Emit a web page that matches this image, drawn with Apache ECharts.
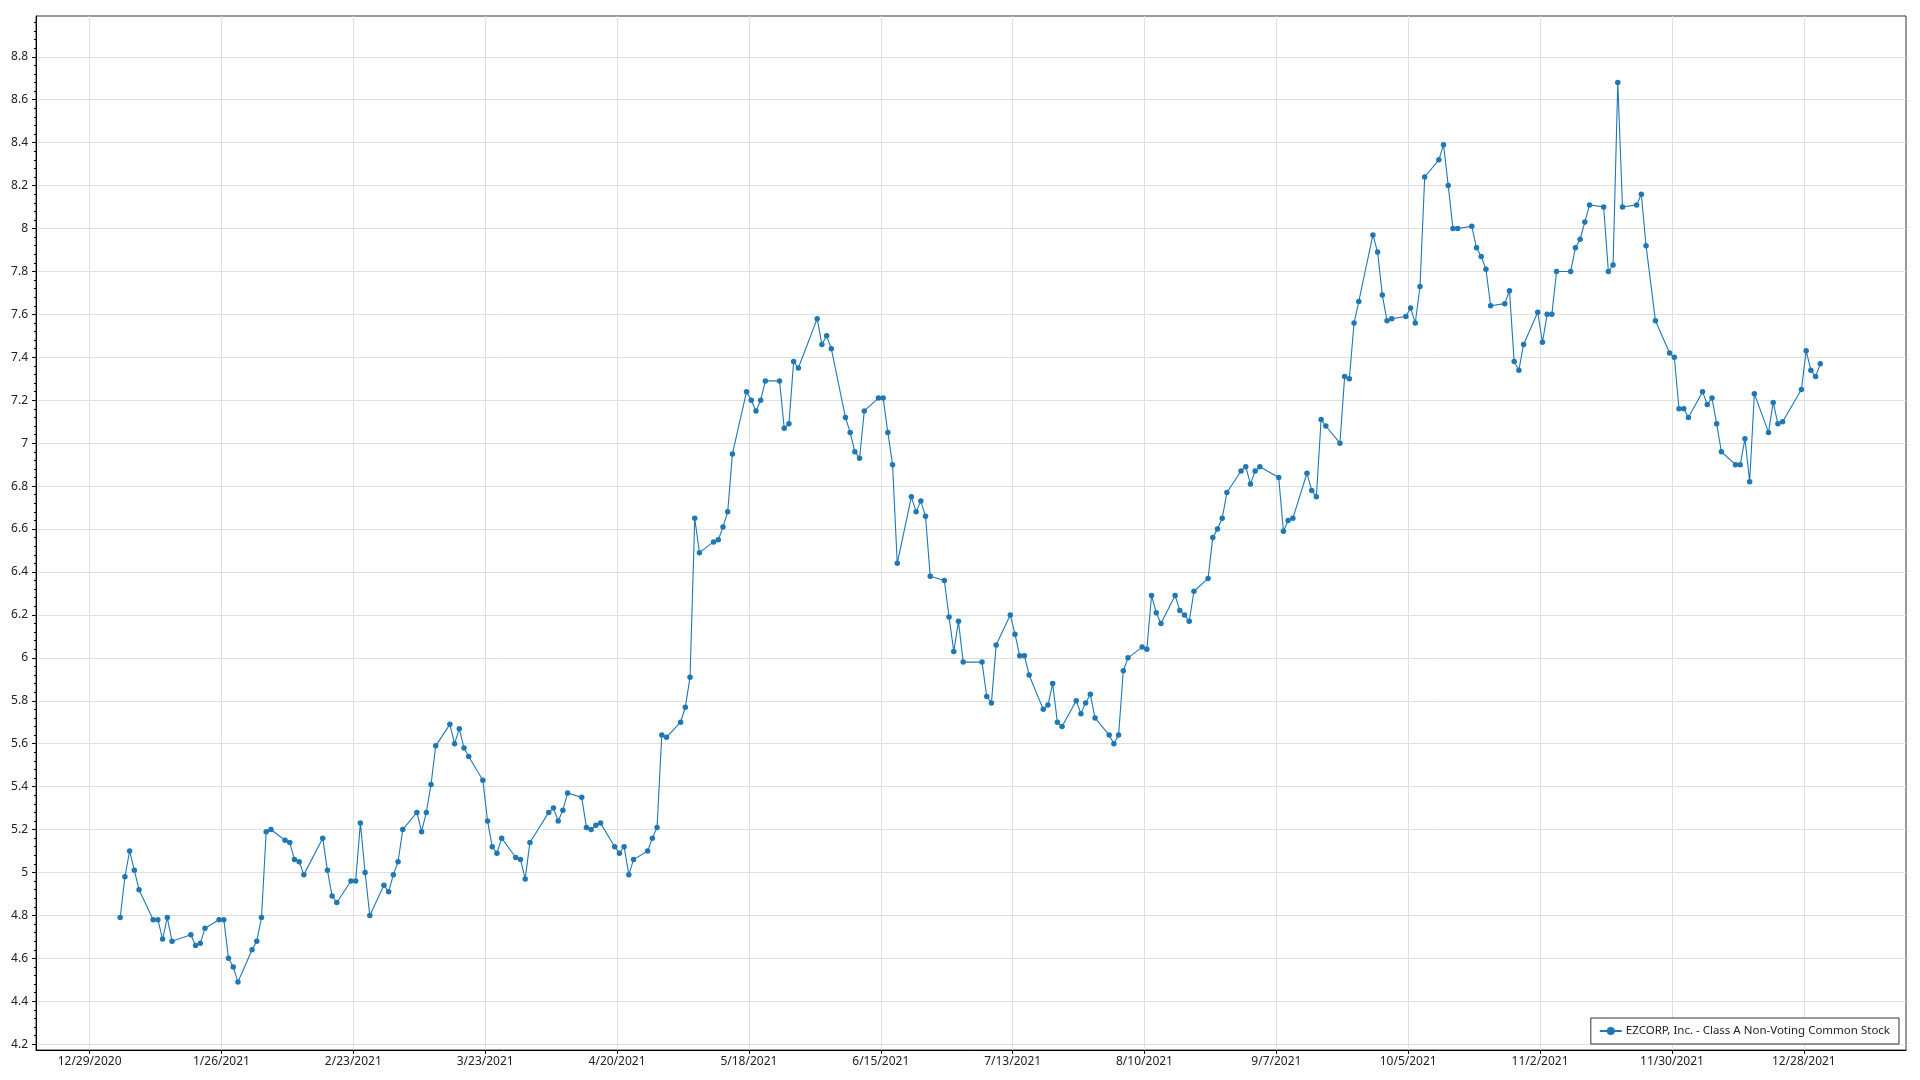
<!DOCTYPE html>
<html><head><meta charset="utf-8">
<script src="https://cdn.jsdelivr.net/npm/echarts@6/dist/echarts.min.js"></script>
<style>html,body{margin:0;padding:0;background:#fff}#c{width:1920px;height:1080px}</style>
</head><body><div id="c"></div>
<script>
const seriesName = 'EZCORP, Inc. - Class A Non-Voting Common Stock';
const dates = [
'2021-01-04','2021-01-05','2021-01-06','2021-01-07','2021-01-08','2021-01-11','2021-01-12','2021-01-13','2021-01-14','2021-01-15',
'2021-01-19','2021-01-20','2021-01-21','2021-01-22','2021-01-25','2021-01-26','2021-01-27','2021-01-28','2021-01-29',
'2021-02-01','2021-02-02','2021-02-03','2021-02-04','2021-02-05','2021-02-08','2021-02-09','2021-02-10','2021-02-11','2021-02-12',
'2021-02-16','2021-02-17','2021-02-18','2021-02-19','2021-02-22','2021-02-23','2021-02-24','2021-02-25','2021-02-26',
'2021-03-01','2021-03-02','2021-03-03','2021-03-04','2021-03-05','2021-03-08','2021-03-09','2021-03-10','2021-03-11','2021-03-12',
'2021-03-15','2021-03-16','2021-03-17','2021-03-18','2021-03-19','2021-03-22','2021-03-23','2021-03-24','2021-03-25','2021-03-26',
'2021-03-29','2021-03-30','2021-03-31','2021-04-01','2021-04-05','2021-04-06','2021-04-07','2021-04-08','2021-04-09',
'2021-04-12','2021-04-13','2021-04-14','2021-04-15','2021-04-16','2021-04-19','2021-04-20','2021-04-21','2021-04-22','2021-04-23',
'2021-04-26','2021-04-27','2021-04-28','2021-04-29','2021-04-30','2021-05-03','2021-05-04','2021-05-05','2021-05-06','2021-05-07',
'2021-05-10','2021-05-11','2021-05-12','2021-05-13','2021-05-14','2021-05-17','2021-05-18','2021-05-19','2021-05-20','2021-05-21',
'2021-05-24','2021-05-25','2021-05-26','2021-05-27','2021-05-28','2021-06-01','2021-06-02','2021-06-03','2021-06-04',
'2021-06-07','2021-06-08','2021-06-09','2021-06-10','2021-06-11','2021-06-14','2021-06-15','2021-06-16','2021-06-17','2021-06-18',
'2021-06-21','2021-06-22','2021-06-23','2021-06-24','2021-06-25','2021-06-28','2021-06-29','2021-06-30','2021-07-01','2021-07-02',
'2021-07-06','2021-07-07','2021-07-08','2021-07-09','2021-07-12','2021-07-13','2021-07-14','2021-07-15','2021-07-16',
'2021-07-19','2021-07-20','2021-07-21','2021-07-22','2021-07-23','2021-07-26','2021-07-27','2021-07-28','2021-07-29','2021-07-30',
'2021-08-02','2021-08-03','2021-08-04','2021-08-05','2021-08-06','2021-08-09','2021-08-10','2021-08-11','2021-08-12','2021-08-13',
'2021-08-16','2021-08-17','2021-08-18','2021-08-19','2021-08-20','2021-08-23','2021-08-24','2021-08-25','2021-08-26','2021-08-27',
'2021-08-30','2021-08-31','2021-09-01','2021-09-02','2021-09-03','2021-09-07','2021-09-08','2021-09-09','2021-09-10',
'2021-09-13','2021-09-14','2021-09-15','2021-09-16','2021-09-17','2021-09-20','2021-09-21','2021-09-22','2021-09-23','2021-09-24',
'2021-09-27','2021-09-28','2021-09-29','2021-09-30','2021-10-01','2021-10-04','2021-10-05','2021-10-06','2021-10-07','2021-10-08',
'2021-10-11','2021-10-12','2021-10-13','2021-10-14','2021-10-15','2021-10-18','2021-10-19','2021-10-20','2021-10-21','2021-10-22',
'2021-10-25','2021-10-26','2021-10-27','2021-10-28','2021-10-29','2021-11-01','2021-11-02','2021-11-03','2021-11-04','2021-11-05',
'2021-11-08','2021-11-09','2021-11-10','2021-11-11','2021-11-12','2021-11-15','2021-11-16','2021-11-17','2021-11-18','2021-11-19',
'2021-11-22','2021-11-23','2021-11-24','2021-11-26','2021-11-29','2021-11-30','2021-12-01','2021-12-02','2021-12-03',
'2021-12-06','2021-12-07','2021-12-08','2021-12-09','2021-12-10','2021-12-13','2021-12-14','2021-12-15','2021-12-16','2021-12-17',
'2021-12-20','2021-12-21','2021-12-22','2021-12-23','2021-12-27','2021-12-28','2021-12-29','2021-12-30','2021-12-31'
];
const prices = [
4.79,4.98,5.10,5.01,4.92,4.78,4.78,4.69,4.79,4.68,
4.71,4.66,4.67,4.74,4.78,4.78,4.60,4.56,4.49,
4.64,4.68,4.79,5.19,5.20,5.15,5.14,5.06,5.05,4.99,
5.16,5.01,4.89,4.86,4.96,4.96,5.23,5.00,4.80,
4.94,4.91,4.99,5.05,5.20,5.28,5.19,5.28,5.41,5.59,
5.69,5.60,5.67,5.58,5.54,5.43,5.24,5.12,5.09,5.16,
5.07,5.06,4.97,5.14,5.28,5.30,5.24,5.29,5.37,
5.35,5.21,5.20,5.22,5.23,5.12,5.09,5.12,4.99,5.06,
5.10,5.16,5.21,5.64,5.63,5.70,5.77,5.91,6.65,6.49,
6.54,6.55,6.61,6.68,6.95,7.24,7.20,7.15,7.20,7.29,
7.29,7.07,7.09,7.38,7.35,7.58,7.46,7.50,7.44,
7.12,7.05,6.96,6.93,7.15,7.21,7.21,7.05,6.90,6.44,
6.75,6.68,6.73,6.66,6.38,6.36,6.19,6.03,6.17,5.98,
5.98,5.82,5.79,6.06,6.20,6.11,6.01,6.01,5.92,
5.76,5.78,5.88,5.70,5.68,5.80,5.74,5.79,5.83,5.72,
5.64,5.60,5.64,5.94,6.00,6.05,6.04,6.29,6.21,6.16,
6.29,6.22,6.20,6.17,6.31,6.37,6.56,6.60,6.65,6.77,
6.87,6.89,6.81,6.87,6.89,6.84,6.59,6.64,6.65,
6.86,6.78,6.75,7.11,7.08,7.00,7.31,7.30,7.56,7.66,
7.97,7.89,7.69,7.57,7.58,7.59,7.63,7.56,7.73,8.24,
8.32,8.39,8.20,8.00,8.00,8.01,7.91,7.87,7.81,7.64,
7.65,7.71,7.38,7.34,7.46,7.61,7.47,7.60,7.60,7.80,
7.80,7.91,7.95,8.03,8.11,8.10,7.80,7.83,8.68,8.10,
8.11,8.16,7.92,7.57,7.42,7.40,7.16,7.16,7.12,
7.24,7.18,7.21,7.09,6.96,6.90,6.90,7.02,6.82,7.23,
7.05,7.19,7.09,7.10,7.25,7.43,7.34,7.31,7.37
];
const xTickDates = ['2020-12-29','2021-01-26','2021-02-23','2021-03-23','2021-04-20','2021-05-18','2021-06-15',
'2021-07-13','2021-08-10','2021-09-07','2021-10-05','2021-11-02','2021-11-30','2021-12-28'];
const yTicks = [4.2,4.4,4.6,4.8,5,5.2,5.4,5.6,5.8,6,6.2,6.4,6.6,6.8,7,7.2,7.4,7.6,7.8,8,8.2,8.4,8.6,8.8];

const DAY = 86400000;
function utc(s){const p=s.split('-').map(Number);return Date.UTC(p[0],p[1]-1,p[2]);}
const t0 = utc('2020-12-29');
const seriesData = dates.map((d,i)=>[utc(d)+DAY/2, prices[i]]);
const xTicks = xTickDates.map(utc);
const yMinor = [];
for(let i=0;i<yTicks.length-1;i++){for(let k=1;k<5;k++){yMinor.push(Math.round((yTicks[i]+k*0.04)*1000)/1000);}}
yMinor.push(8.84,8.88,8.92,8.96);
function fmt(v){const d=new Date(v);return (d.getUTCMonth()+1)+'/'+d.getUTCDate()+'/'+d.getUTCFullYear();}

const FONT = 'Noto Sans';
const chart = echarts.init(document.getElementById('c'));
chart.setOption({
  animation:false,
  textStyle:{fontFamily:FONT},
  grid:{left:36,right:14,top:16,bottom:30,show:true,borderColor:'#333',borderWidth:1,backgroundColor:'transparent'},
  legend:{
    right:21,bottom:36,orient:'horizontal',
    backgroundColor:'#fff',borderColor:'#333',borderWidth:1,padding:[7,9,7,8],
    itemWidth:22,itemHeight:10,itemGap:6,
    textStyle:{fontFamily:FONT,fontSize:11.5,color:'#222',padding:[0,0,0,-1]},
    data:[seriesName]
  },
  xAxis:{
    type:'value',
    min:t0-11.38*DAY, max:t0+385.7*DAY,
    axisLine:{show:true,lineStyle:{color:'#000',width:1}},
    axisTick:{show:true,length:4,customValues:xTicks,lineStyle:{color:'#000'}},
    axisLabel:{customValues:xTicks,formatter:fmt,color:'#222',fontSize:12,fontFamily:FONT,margin:6},
    splitLine:{show:true,lineStyle:{color:'#e0e0e0',width:1}}
  },
  yAxis:[{
    type:'value',min:4.173,max:8.99,
    axisLine:{show:true,lineStyle:{color:'#000',width:1}},
    axisTick:{show:true,length:4,customValues:yTicks,lineStyle:{color:'#000'}},
    axisLabel:{customValues:yTicks,color:'#222',fontSize:12,fontFamily:FONT,margin:8},
    splitLine:{show:true,lineStyle:{color:'#e0e0e0',width:1}}
  },{
    type:'value',min:4.173,max:8.99,position:'left',
    axisLine:{show:false},
    axisTick:{show:true,length:2,customValues:yMinor,lineStyle:{color:'#000'}},
    axisLabel:{show:false,customValues:yMinor},
    splitLine:{show:false}
  }],
  series:[{
    name:seriesName,type:'line',data:seriesData,
    symbol:'circle',symbolSize:5.5,showSymbol:true,
    lineStyle:{color:'#1f77b4',width:1.1},
    itemStyle:{color:'#1f77b4'},
    emphasis:{disabled:true}
  }]
});
</script></body></html>
